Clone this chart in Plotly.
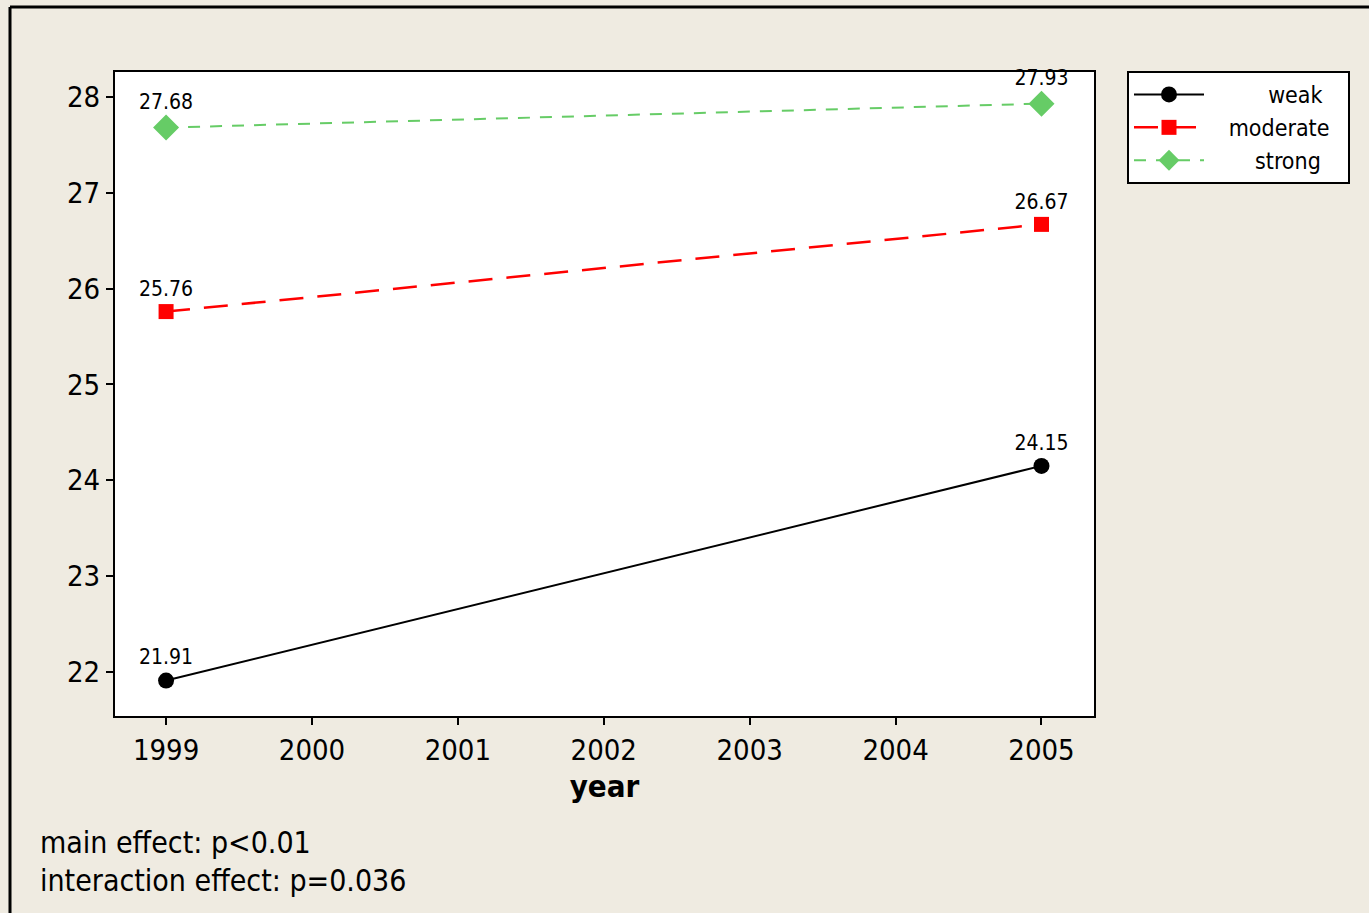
import plotly.graph_objects as go

# Mean scores by year for each group
years = [1999, 2005]
weak = [21.91, 24.15]
moderate = [25.76, 26.67]
strong = [27.68, 27.93]

x_ticks = [1999, 2000, 2001, 2002, 2003, 2004, 2005]
y_ticks = [22, 23, 24, 25, 26, 27, 28]

FONT = "DejaVu Sans Condensed, DejaVu Sans, sans-serif"
BG = "#EFEBE1"
NB = "\u00a0"

fig = go.Figure()

# name, values, colour, dash, symbol, marker size, line width, legend padding (left, right)
series = [
    ("weak", weak, "#000000", "solid", "circle", 16, 2, (9, 2)),
    ("moderate", moderate, "#FF0000", "24px,14px", "square", 15, 2.5, (3, 2)),
    ("strong", strong, "#66CC66", "12px,10px", "diamond", 20, 2, (7, 2)),
]

for name, vals, color, dash, symbol, size, lw, pad in series:
    fig.add_trace(go.Scatter(
        x=years, y=vals,
        name=NB * pad[0] + name + NB * pad[1],
        mode="lines+markers+text",
        text=[f"{v:.2f}" for v in vals],
        textposition="top center",
        textfont=dict(family=FONT, size=21, color="black"),
        line=dict(color=color, width=lw, dash=dash),
        marker=dict(symbol=symbol, size=size, color=color),
        cliponaxis=False,
    ))

fig.update_layout(
    width=1369, height=913,
    margin=dict(l=115, r=275, t=72, b=197),
    paper_bgcolor=BG,
    plot_bgcolor="white",
    font=dict(family=FONT, size=29, color="black"),
    showlegend=True,
    legend=dict(
        x=(1127 - 115) / 979, y=(716 - 71) / 644, xanchor="left", yanchor="top",
        bgcolor="white", bordercolor="black", borderwidth=2,
        font=dict(family=FONT, size=23, color="black"),
        itemwidth=70, tracegroupgap=0,
    ),
)

fig.update_xaxes(
    range=[1998.65, 2005.36],
    tickmode="array", tickvals=x_ticks, ticktext=[str(t) for t in x_ticks],
    ticks="outside", ticklen=7, tickwidth=2, tickcolor="black",
    showline=True, linecolor="black", linewidth=2, mirror=True,
    showgrid=False, zeroline=False,
    tickfont=dict(family=FONT, size=29),
    title=dict(text="<b>year</b>", font=dict(family=FONT, size=31), standoff=10),
)
fig.update_yaxes(
    range=[21.54, 28.26],
    tickmode="array", tickvals=y_ticks, ticktext=[str(t) for t in y_ticks],
    ticks="outside", ticklen=7, tickwidth=2, tickcolor="black",
    showline=True, linecolor="black", linewidth=2, mirror=True,
    showgrid=False, zeroline=False,
    tickfont=dict(family=FONT, size=29),
)

# Frame around the whole graph (top and left edges)
fig.add_shape(type="line", xref="paper", yref="paper",
              x0=(10 - 115) / 979, x1=(1380 - 115) / 979,
              y0=(716 - 7) / 644, y1=(716 - 7) / 644,
              line=dict(color="black", width=3))
fig.add_shape(type="line", xref="paper", yref="paper",
              x0=(10 - 115) / 979, x1=(10 - 115) / 979,
              y0=(716 - 7) / 644, y1=(716 - 930) / 644,
              line=dict(color="black", width=3))

# Footnotes with test results
notes = ["main effect: p<0.01", "interaction effect: p=0.036"]
for i, note in enumerate(notes):
    fig.add_annotation(
        xref="paper", yref="paper",
        x=(38 - 115) / 979, y=(716 - (842 + 38 * i)) / 644,
        xanchor="left", yanchor="middle",
        text=note, showarrow=False,
        font=dict(family=FONT, size=30, color="black"),
    )

fig.write_html("out.html")
